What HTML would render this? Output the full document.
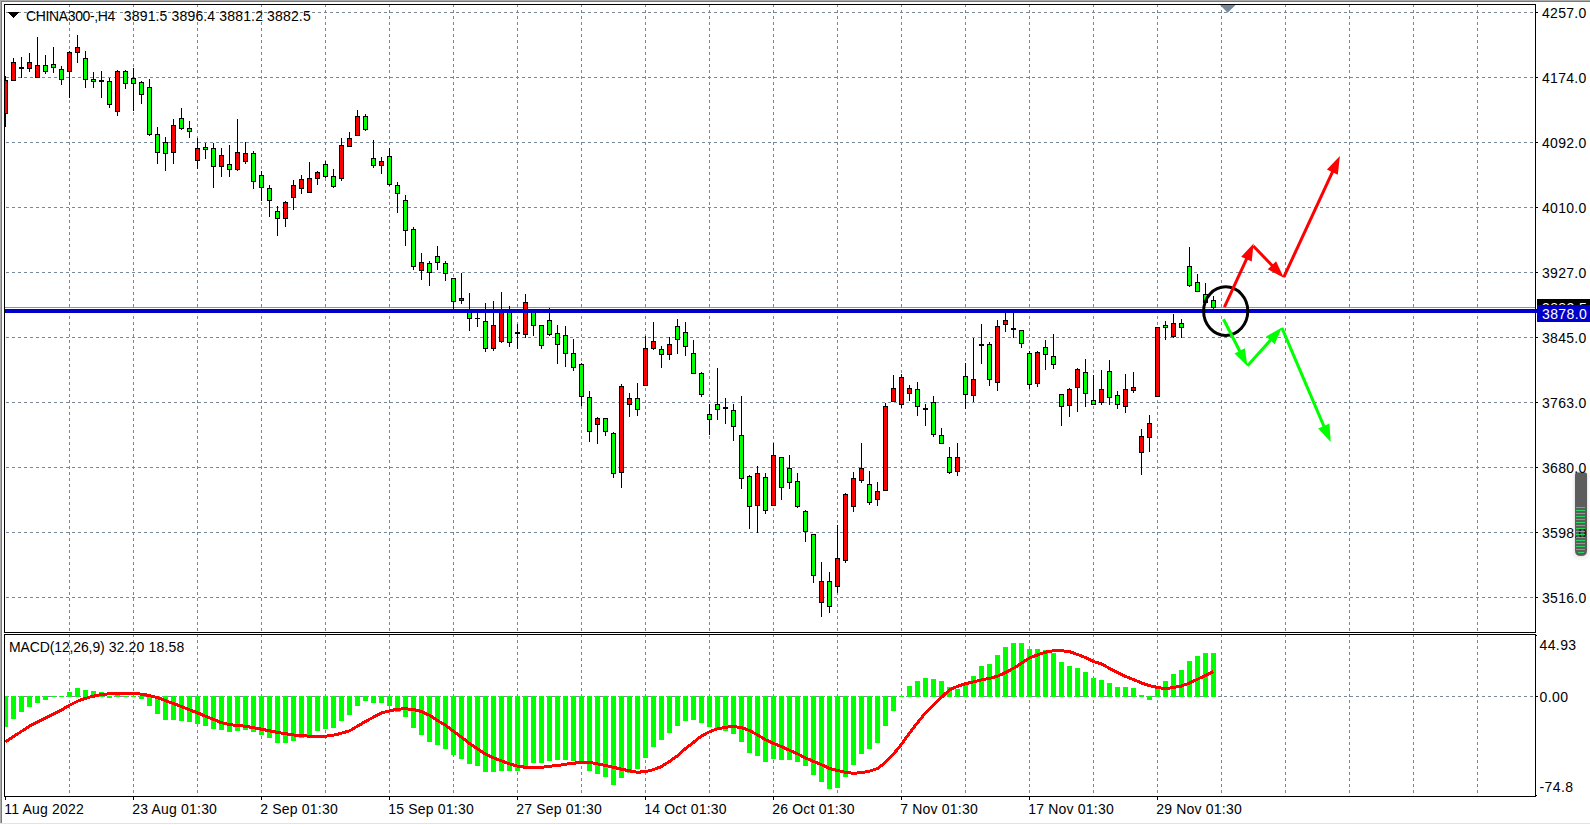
<!DOCTYPE html>
<html><head><meta charset="utf-8"><title>CHINA300-,H4</title>
<style>
html,body{margin:0;padding:0;background:#fff;}
body{width:1590px;height:825px;overflow:hidden;position:relative;font-family:"Liberation Sans",sans-serif;font-size:14px;color:#000;}
svg{position:absolute;left:0;top:0;}
.t{position:absolute;white-space:pre;line-height:16px;height:16px;font-size:14px;}
.ax{left:1540px;}
</style></head><body>
<svg width="1590" height="825" viewBox="0 0 1590 825">
<g shape-rendering="crispEdges">
<rect x="0" y="0" width="1590" height="1" fill="#ababab"/>
<rect x="0" y="1" width="1590" height="1" fill="#7a7a7a"/>
<rect x="0" y="0" width="1" height="823" fill="#ababab"/>
<rect x="1" y="1" width="1" height="822" fill="#7a7a7a"/>
<rect x="0" y="823" width="1590" height="1" fill="#e3e3e3"/>
<line x1="6" y1="12.5" x2="1535" y2="12.5" stroke="#778899" stroke-width="1" stroke-dasharray="3 3"/>
<line x1="6" y1="77.5" x2="1535" y2="77.5" stroke="#778899" stroke-width="1" stroke-dasharray="3 3"/>
<line x1="6" y1="142.5" x2="1535" y2="142.5" stroke="#778899" stroke-width="1" stroke-dasharray="3 3"/>
<line x1="6" y1="207.5" x2="1535" y2="207.5" stroke="#778899" stroke-width="1" stroke-dasharray="3 3"/>
<line x1="6" y1="272.5" x2="1535" y2="272.5" stroke="#778899" stroke-width="1" stroke-dasharray="3 3"/>
<line x1="6" y1="337.5" x2="1535" y2="337.5" stroke="#778899" stroke-width="1" stroke-dasharray="3 3"/>
<line x1="6" y1="402.5" x2="1535" y2="402.5" stroke="#778899" stroke-width="1" stroke-dasharray="3 3"/>
<line x1="6" y1="467.5" x2="1535" y2="467.5" stroke="#778899" stroke-width="1" stroke-dasharray="3 3"/>
<line x1="6" y1="532.5" x2="1535" y2="532.5" stroke="#778899" stroke-width="1" stroke-dasharray="3 3"/>
<line x1="6" y1="597.5" x2="1535" y2="597.5" stroke="#778899" stroke-width="1" stroke-dasharray="3 3"/>
<line x1="6" y1="696.5" x2="1535" y2="696.5" stroke="#778899" stroke-width="1" stroke-dasharray="3 3"/>
<line x1="69.5" y1="4" x2="69.5" y2="632" stroke="#778899" stroke-width="1" stroke-dasharray="3 3"/>
<line x1="69.5" y1="634" x2="69.5" y2="796" stroke="#778899" stroke-width="1" stroke-dasharray="3 3"/>
<line x1="133.5" y1="4" x2="133.5" y2="632" stroke="#778899" stroke-width="1" stroke-dasharray="3 3"/>
<line x1="133.5" y1="634" x2="133.5" y2="796" stroke="#778899" stroke-width="1" stroke-dasharray="3 3"/>
<line x1="197.5" y1="4" x2="197.5" y2="632" stroke="#778899" stroke-width="1" stroke-dasharray="3 3"/>
<line x1="197.5" y1="634" x2="197.5" y2="796" stroke="#778899" stroke-width="1" stroke-dasharray="3 3"/>
<line x1="261.5" y1="4" x2="261.5" y2="632" stroke="#778899" stroke-width="1" stroke-dasharray="3 3"/>
<line x1="261.5" y1="634" x2="261.5" y2="796" stroke="#778899" stroke-width="1" stroke-dasharray="3 3"/>
<line x1="325.5" y1="4" x2="325.5" y2="632" stroke="#778899" stroke-width="1" stroke-dasharray="3 3"/>
<line x1="325.5" y1="634" x2="325.5" y2="796" stroke="#778899" stroke-width="1" stroke-dasharray="3 3"/>
<line x1="389.5" y1="4" x2="389.5" y2="632" stroke="#778899" stroke-width="1" stroke-dasharray="3 3"/>
<line x1="389.5" y1="634" x2="389.5" y2="796" stroke="#778899" stroke-width="1" stroke-dasharray="3 3"/>
<line x1="453.5" y1="4" x2="453.5" y2="632" stroke="#778899" stroke-width="1" stroke-dasharray="3 3"/>
<line x1="453.5" y1="634" x2="453.5" y2="796" stroke="#778899" stroke-width="1" stroke-dasharray="3 3"/>
<line x1="517.5" y1="4" x2="517.5" y2="632" stroke="#778899" stroke-width="1" stroke-dasharray="3 3"/>
<line x1="517.5" y1="634" x2="517.5" y2="796" stroke="#778899" stroke-width="1" stroke-dasharray="3 3"/>
<line x1="581.5" y1="4" x2="581.5" y2="632" stroke="#778899" stroke-width="1" stroke-dasharray="3 3"/>
<line x1="581.5" y1="634" x2="581.5" y2="796" stroke="#778899" stroke-width="1" stroke-dasharray="3 3"/>
<line x1="645.5" y1="4" x2="645.5" y2="632" stroke="#778899" stroke-width="1" stroke-dasharray="3 3"/>
<line x1="645.5" y1="634" x2="645.5" y2="796" stroke="#778899" stroke-width="1" stroke-dasharray="3 3"/>
<line x1="709.5" y1="4" x2="709.5" y2="632" stroke="#778899" stroke-width="1" stroke-dasharray="3 3"/>
<line x1="709.5" y1="634" x2="709.5" y2="796" stroke="#778899" stroke-width="1" stroke-dasharray="3 3"/>
<line x1="773.5" y1="4" x2="773.5" y2="632" stroke="#778899" stroke-width="1" stroke-dasharray="3 3"/>
<line x1="773.5" y1="634" x2="773.5" y2="796" stroke="#778899" stroke-width="1" stroke-dasharray="3 3"/>
<line x1="837.5" y1="4" x2="837.5" y2="632" stroke="#778899" stroke-width="1" stroke-dasharray="3 3"/>
<line x1="837.5" y1="634" x2="837.5" y2="796" stroke="#778899" stroke-width="1" stroke-dasharray="3 3"/>
<line x1="901.5" y1="4" x2="901.5" y2="632" stroke="#778899" stroke-width="1" stroke-dasharray="3 3"/>
<line x1="901.5" y1="634" x2="901.5" y2="796" stroke="#778899" stroke-width="1" stroke-dasharray="3 3"/>
<line x1="965.5" y1="4" x2="965.5" y2="632" stroke="#778899" stroke-width="1" stroke-dasharray="3 3"/>
<line x1="965.5" y1="634" x2="965.5" y2="796" stroke="#778899" stroke-width="1" stroke-dasharray="3 3"/>
<line x1="1029.5" y1="4" x2="1029.5" y2="632" stroke="#778899" stroke-width="1" stroke-dasharray="3 3"/>
<line x1="1029.5" y1="634" x2="1029.5" y2="796" stroke="#778899" stroke-width="1" stroke-dasharray="3 3"/>
<line x1="1093.5" y1="4" x2="1093.5" y2="632" stroke="#778899" stroke-width="1" stroke-dasharray="3 3"/>
<line x1="1093.5" y1="634" x2="1093.5" y2="796" stroke="#778899" stroke-width="1" stroke-dasharray="3 3"/>
<line x1="1157.5" y1="4" x2="1157.5" y2="632" stroke="#778899" stroke-width="1" stroke-dasharray="3 3"/>
<line x1="1157.5" y1="634" x2="1157.5" y2="796" stroke="#778899" stroke-width="1" stroke-dasharray="3 3"/>
<line x1="1221.5" y1="4" x2="1221.5" y2="632" stroke="#778899" stroke-width="1" stroke-dasharray="3 3"/>
<line x1="1221.5" y1="634" x2="1221.5" y2="796" stroke="#778899" stroke-width="1" stroke-dasharray="3 3"/>
<line x1="1285.5" y1="4" x2="1285.5" y2="632" stroke="#778899" stroke-width="1" stroke-dasharray="3 3"/>
<line x1="1285.5" y1="634" x2="1285.5" y2="796" stroke="#778899" stroke-width="1" stroke-dasharray="3 3"/>
<line x1="1349.5" y1="4" x2="1349.5" y2="632" stroke="#778899" stroke-width="1" stroke-dasharray="3 3"/>
<line x1="1349.5" y1="634" x2="1349.5" y2="796" stroke="#778899" stroke-width="1" stroke-dasharray="3 3"/>
<line x1="1413.5" y1="4" x2="1413.5" y2="632" stroke="#778899" stroke-width="1" stroke-dasharray="3 3"/>
<line x1="1413.5" y1="634" x2="1413.5" y2="796" stroke="#778899" stroke-width="1" stroke-dasharray="3 3"/>
<line x1="1477.5" y1="4" x2="1477.5" y2="632" stroke="#778899" stroke-width="1" stroke-dasharray="3 3"/>
<line x1="1477.5" y1="634" x2="1477.5" y2="796" stroke="#778899" stroke-width="1" stroke-dasharray="3 3"/>
<rect x="5" y="307" width="1530" height="1" fill="#8a97a4"/>
<rect x="5" y="696" width="3" height="31" fill="#00ff00"/>
<rect x="11" y="696" width="5" height="23" fill="#00ff00"/>
<rect x="19" y="696" width="5" height="16" fill="#00ff00"/>
<rect x="27" y="696" width="5" height="11" fill="#00ff00"/>
<rect x="35" y="696" width="5" height="7" fill="#00ff00"/>
<rect x="43" y="696" width="5" height="4" fill="#00ff00"/>
<rect x="51" y="696" width="5" height="1" fill="#00ff00"/>
<rect x="59" y="696" width="5" height="1" fill="#00ff00"/>
<rect x="67" y="692" width="5" height="5" fill="#00ff00"/>
<rect x="75" y="688" width="5" height="9" fill="#00ff00"/>
<rect x="83" y="690" width="5" height="7" fill="#00ff00"/>
<rect x="91" y="691" width="5" height="6" fill="#00ff00"/>
<rect x="99" y="692" width="5" height="5" fill="#00ff00"/>
<rect x="107" y="696" width="5" height="2" fill="#00ff00"/>
<rect x="115" y="695" width="5" height="2" fill="#00ff00"/>
<rect x="123" y="696" width="5" height="1" fill="#00ff00"/>
<rect x="131" y="696" width="5" height="1" fill="#00ff00"/>
<rect x="139" y="696" width="5" height="3" fill="#00ff00"/>
<rect x="147" y="696" width="5" height="10" fill="#00ff00"/>
<rect x="155" y="696" width="5" height="18" fill="#00ff00"/>
<rect x="163" y="696" width="5" height="24" fill="#00ff00"/>
<rect x="171" y="696" width="5" height="24" fill="#00ff00"/>
<rect x="179" y="696" width="5" height="25" fill="#00ff00"/>
<rect x="187" y="696" width="5" height="26" fill="#00ff00"/>
<rect x="195" y="696" width="5" height="28" fill="#00ff00"/>
<rect x="203" y="696" width="5" height="30" fill="#00ff00"/>
<rect x="211" y="696" width="5" height="33" fill="#00ff00"/>
<rect x="219" y="696" width="5" height="34" fill="#00ff00"/>
<rect x="227" y="696" width="5" height="36" fill="#00ff00"/>
<rect x="235" y="696" width="5" height="35" fill="#00ff00"/>
<rect x="243" y="696" width="5" height="34" fill="#00ff00"/>
<rect x="251" y="696" width="5" height="36" fill="#00ff00"/>
<rect x="259" y="696" width="5" height="39" fill="#00ff00"/>
<rect x="267" y="696" width="5" height="42" fill="#00ff00"/>
<rect x="275" y="696" width="5" height="47" fill="#00ff00"/>
<rect x="283" y="696" width="5" height="47" fill="#00ff00"/>
<rect x="291" y="696" width="5" height="45" fill="#00ff00"/>
<rect x="299" y="696" width="5" height="42" fill="#00ff00"/>
<rect x="307" y="696" width="5" height="40" fill="#00ff00"/>
<rect x="315" y="696" width="5" height="35" fill="#00ff00"/>
<rect x="323" y="696" width="5" height="33" fill="#00ff00"/>
<rect x="331" y="696" width="5" height="32" fill="#00ff00"/>
<rect x="339" y="696" width="5" height="25" fill="#00ff00"/>
<rect x="347" y="696" width="5" height="19" fill="#00ff00"/>
<rect x="355" y="696" width="5" height="10" fill="#00ff00"/>
<rect x="363" y="696" width="5" height="5" fill="#00ff00"/>
<rect x="371" y="696" width="5" height="7" fill="#00ff00"/>
<rect x="379" y="696" width="5" height="7" fill="#00ff00"/>
<rect x="387" y="696" width="5" height="10" fill="#00ff00"/>
<rect x="395" y="696" width="5" height="16" fill="#00ff00"/>
<rect x="403" y="696" width="5" height="21" fill="#00ff00"/>
<rect x="411" y="696" width="5" height="32" fill="#00ff00"/>
<rect x="419" y="696" width="5" height="39" fill="#00ff00"/>
<rect x="427" y="696" width="5" height="46" fill="#00ff00"/>
<rect x="435" y="696" width="5" height="49" fill="#00ff00"/>
<rect x="443" y="696" width="5" height="53" fill="#00ff00"/>
<rect x="451" y="696" width="5" height="59" fill="#00ff00"/>
<rect x="459" y="696" width="5" height="63" fill="#00ff00"/>
<rect x="467" y="696" width="5" height="68" fill="#00ff00"/>
<rect x="475" y="696" width="5" height="70" fill="#00ff00"/>
<rect x="483" y="696" width="5" height="76" fill="#00ff00"/>
<rect x="491" y="696" width="5" height="76" fill="#00ff00"/>
<rect x="499" y="696" width="5" height="75" fill="#00ff00"/>
<rect x="507" y="696" width="5" height="75" fill="#00ff00"/>
<rect x="515" y="696" width="5" height="75" fill="#00ff00"/>
<rect x="523" y="696" width="5" height="71" fill="#00ff00"/>
<rect x="531" y="696" width="5" height="67" fill="#00ff00"/>
<rect x="539" y="696" width="5" height="67" fill="#00ff00"/>
<rect x="547" y="696" width="5" height="65" fill="#00ff00"/>
<rect x="555" y="696" width="5" height="64" fill="#00ff00"/>
<rect x="563" y="696" width="5" height="64" fill="#00ff00"/>
<rect x="571" y="696" width="5" height="65" fill="#00ff00"/>
<rect x="579" y="696" width="5" height="67" fill="#00ff00"/>
<rect x="587" y="696" width="5" height="75" fill="#00ff00"/>
<rect x="595" y="696" width="5" height="78" fill="#00ff00"/>
<rect x="603" y="696" width="5" height="81" fill="#00ff00"/>
<rect x="611" y="696" width="5" height="89" fill="#00ff00"/>
<rect x="619" y="696" width="5" height="82" fill="#00ff00"/>
<rect x="627" y="696" width="5" height="77" fill="#00ff00"/>
<rect x="635" y="696" width="5" height="73" fill="#00ff00"/>
<rect x="643" y="696" width="5" height="62" fill="#00ff00"/>
<rect x="651" y="696" width="5" height="51" fill="#00ff00"/>
<rect x="659" y="696" width="5" height="44" fill="#00ff00"/>
<rect x="667" y="696" width="5" height="37" fill="#00ff00"/>
<rect x="675" y="696" width="5" height="30" fill="#00ff00"/>
<rect x="683" y="696" width="5" height="25" fill="#00ff00"/>
<rect x="691" y="696" width="5" height="24" fill="#00ff00"/>
<rect x="699" y="696" width="5" height="27" fill="#00ff00"/>
<rect x="707" y="696" width="5" height="31" fill="#00ff00"/>
<rect x="715" y="696" width="5" height="33" fill="#00ff00"/>
<rect x="723" y="696" width="5" height="35" fill="#00ff00"/>
<rect x="731" y="696" width="5" height="38" fill="#00ff00"/>
<rect x="739" y="696" width="5" height="46" fill="#00ff00"/>
<rect x="747" y="696" width="5" height="57" fill="#00ff00"/>
<rect x="755" y="696" width="5" height="60" fill="#00ff00"/>
<rect x="763" y="696" width="5" height="66" fill="#00ff00"/>
<rect x="771" y="696" width="5" height="63" fill="#00ff00"/>
<rect x="779" y="696" width="5" height="64" fill="#00ff00"/>
<rect x="787" y="696" width="5" height="64" fill="#00ff00"/>
<rect x="795" y="696" width="5" height="66" fill="#00ff00"/>
<rect x="803" y="696" width="5" height="70" fill="#00ff00"/>
<rect x="811" y="696" width="5" height="79" fill="#00ff00"/>
<rect x="819" y="696" width="5" height="86" fill="#00ff00"/>
<rect x="827" y="696" width="5" height="93" fill="#00ff00"/>
<rect x="835" y="696" width="5" height="92" fill="#00ff00"/>
<rect x="843" y="696" width="5" height="81" fill="#00ff00"/>
<rect x="851" y="696" width="5" height="69" fill="#00ff00"/>
<rect x="859" y="696" width="5" height="58" fill="#00ff00"/>
<rect x="867" y="696" width="5" height="53" fill="#00ff00"/>
<rect x="875" y="696" width="5" height="47" fill="#00ff00"/>
<rect x="883" y="696" width="5" height="30" fill="#00ff00"/>
<rect x="891" y="696" width="5" height="15" fill="#00ff00"/>
<rect x="899" y="696" width="5" height="1" fill="#00ff00"/>
<rect x="907" y="686" width="5" height="11" fill="#00ff00"/>
<rect x="915" y="681" width="5" height="16" fill="#00ff00"/>
<rect x="923" y="678" width="5" height="19" fill="#00ff00"/>
<rect x="931" y="679" width="5" height="18" fill="#00ff00"/>
<rect x="939" y="681" width="5" height="16" fill="#00ff00"/>
<rect x="947" y="687" width="5" height="10" fill="#00ff00"/>
<rect x="955" y="689" width="5" height="8" fill="#00ff00"/>
<rect x="963" y="683" width="5" height="14" fill="#00ff00"/>
<rect x="971" y="676" width="5" height="21" fill="#00ff00"/>
<rect x="979" y="666" width="5" height="31" fill="#00ff00"/>
<rect x="987" y="664" width="5" height="33" fill="#00ff00"/>
<rect x="995" y="655" width="5" height="42" fill="#00ff00"/>
<rect x="1003" y="647" width="5" height="50" fill="#00ff00"/>
<rect x="1011" y="643" width="5" height="54" fill="#00ff00"/>
<rect x="1019" y="643" width="5" height="54" fill="#00ff00"/>
<rect x="1027" y="649" width="5" height="48" fill="#00ff00"/>
<rect x="1035" y="649" width="5" height="48" fill="#00ff00"/>
<rect x="1043" y="650" width="5" height="47" fill="#00ff00"/>
<rect x="1051" y="653" width="5" height="44" fill="#00ff00"/>
<rect x="1059" y="662" width="5" height="35" fill="#00ff00"/>
<rect x="1067" y="666" width="5" height="31" fill="#00ff00"/>
<rect x="1075" y="668" width="5" height="29" fill="#00ff00"/>
<rect x="1083" y="672" width="5" height="25" fill="#00ff00"/>
<rect x="1091" y="678" width="5" height="19" fill="#00ff00"/>
<rect x="1099" y="680" width="5" height="17" fill="#00ff00"/>
<rect x="1107" y="683" width="5" height="14" fill="#00ff00"/>
<rect x="1115" y="687" width="5" height="10" fill="#00ff00"/>
<rect x="1123" y="687" width="5" height="10" fill="#00ff00"/>
<rect x="1131" y="688" width="5" height="9" fill="#00ff00"/>
<rect x="1139" y="695" width="5" height="2" fill="#00ff00"/>
<rect x="1147" y="696" width="5" height="4" fill="#00ff00"/>
<rect x="1155" y="688" width="5" height="9" fill="#00ff00"/>
<rect x="1163" y="681" width="5" height="16" fill="#00ff00"/>
<rect x="1171" y="674" width="5" height="23" fill="#00ff00"/>
<rect x="1179" y="670" width="5" height="27" fill="#00ff00"/>
<rect x="1187" y="661" width="5" height="36" fill="#00ff00"/>
<rect x="1195" y="656" width="5" height="41" fill="#00ff00"/>
<rect x="1203" y="653" width="5" height="44" fill="#00ff00"/>
<rect x="1211" y="653" width="5" height="44" fill="#00ff00"/>
<rect x="5" y="76" width="1" height="51" fill="#000"/><rect x="3" y="80" width="5" height="34" fill="#000"/><rect x="4" y="81" width="3" height="32" fill="#ff0000"/>
<rect x="13" y="58" width="1" height="23" fill="#000"/><rect x="11" y="62" width="5" height="19" fill="#000"/><rect x="12" y="63" width="3" height="17" fill="#ff0000"/>
<rect x="21" y="57" width="1" height="21" fill="#000"/><rect x="19" y="67" width="5" height="2" fill="#000"/>
<rect x="29" y="53" width="1" height="19" fill="#000"/><rect x="27" y="62" width="5" height="7" fill="#000"/><rect x="28" y="63" width="3" height="5" fill="#ff0000"/>
<rect x="37" y="37" width="1" height="41" fill="#000"/><rect x="35" y="65" width="5" height="13" fill="#000"/><rect x="36" y="66" width="3" height="11" fill="#ff0000"/>
<rect x="45" y="55" width="1" height="19" fill="#000"/><rect x="43" y="65" width="5" height="7" fill="#000"/><rect x="44" y="66" width="3" height="5" fill="#00ff00"/>
<rect x="53" y="47" width="1" height="26" fill="#000"/><rect x="51" y="64" width="5" height="4" fill="#000"/><rect x="52" y="65" width="3" height="2" fill="#00ff00"/>
<rect x="61" y="66" width="1" height="19" fill="#000"/><rect x="59" y="69" width="5" height="11" fill="#000"/><rect x="60" y="70" width="3" height="9" fill="#00ff00"/>
<rect x="69" y="51" width="1" height="47" fill="#000"/><rect x="67" y="52" width="5" height="20" fill="#000"/><rect x="68" y="53" width="3" height="18" fill="#ff0000"/>
<rect x="77" y="35" width="1" height="28" fill="#000"/><rect x="75" y="47" width="5" height="6" fill="#000"/><rect x="76" y="48" width="3" height="4" fill="#ff0000"/>
<rect x="85" y="51" width="1" height="37" fill="#000"/><rect x="83" y="58" width="5" height="22" fill="#000"/><rect x="84" y="59" width="3" height="20" fill="#00ff00"/>
<rect x="93" y="72" width="1" height="16" fill="#000"/><rect x="91" y="79" width="5" height="3" fill="#000"/><rect x="92" y="80" width="3" height="1" fill="#00ff00"/>
<rect x="101" y="71" width="1" height="27" fill="#000"/><rect x="99" y="80" width="5" height="2" fill="#000"/>
<rect x="109" y="78" width="1" height="30" fill="#000"/><rect x="107" y="81" width="5" height="24" fill="#000"/><rect x="108" y="82" width="3" height="22" fill="#00ff00"/>
<rect x="117" y="70" width="1" height="46" fill="#000"/><rect x="115" y="71" width="5" height="41" fill="#000"/><rect x="116" y="72" width="3" height="39" fill="#ff0000"/>
<rect x="125" y="70" width="1" height="19" fill="#000"/><rect x="123" y="71" width="5" height="13" fill="#000"/><rect x="124" y="72" width="3" height="11" fill="#00ff00"/>
<rect x="133" y="68" width="1" height="43" fill="#000"/><rect x="131" y="78" width="5" height="6" fill="#000"/><rect x="132" y="79" width="3" height="4" fill="#00ff00"/>
<rect x="141" y="81" width="1" height="23" fill="#000"/><rect x="139" y="82" width="5" height="13" fill="#000"/><rect x="140" y="83" width="3" height="11" fill="#00ff00"/>
<rect x="149" y="79" width="1" height="57" fill="#000"/><rect x="147" y="87" width="5" height="48" fill="#000"/><rect x="148" y="88" width="3" height="46" fill="#00ff00"/>
<rect x="157" y="127" width="1" height="37" fill="#000"/><rect x="155" y="134" width="5" height="19" fill="#000"/><rect x="156" y="135" width="3" height="17" fill="#00ff00"/>
<rect x="165" y="137" width="1" height="34" fill="#000"/><rect x="163" y="142" width="5" height="12" fill="#000"/><rect x="164" y="143" width="3" height="10" fill="#00ff00"/>
<rect x="173" y="119" width="1" height="45" fill="#000"/><rect x="171" y="125" width="5" height="28" fill="#000"/><rect x="172" y="126" width="3" height="26" fill="#ff0000"/>
<rect x="181" y="108" width="1" height="22" fill="#000"/><rect x="179" y="118" width="5" height="11" fill="#000"/><rect x="180" y="119" width="3" height="9" fill="#00ff00"/>
<rect x="189" y="121" width="1" height="17" fill="#000"/><rect x="187" y="128" width="5" height="4" fill="#000"/><rect x="188" y="129" width="3" height="2" fill="#00ff00"/>
<rect x="197" y="138" width="1" height="31" fill="#000"/><rect x="195" y="148" width="5" height="13" fill="#000"/><rect x="196" y="149" width="3" height="11" fill="#ff0000"/>
<rect x="205" y="143" width="1" height="16" fill="#000"/><rect x="203" y="147" width="5" height="3" fill="#000"/><rect x="204" y="148" width="3" height="1" fill="#00ff00"/>
<rect x="213" y="143" width="1" height="45" fill="#000"/><rect x="211" y="148" width="5" height="19" fill="#000"/><rect x="212" y="149" width="3" height="17" fill="#00ff00"/>
<rect x="221" y="148" width="1" height="29" fill="#000"/><rect x="219" y="155" width="5" height="12" fill="#000"/><rect x="220" y="156" width="3" height="10" fill="#ff0000"/>
<rect x="229" y="145" width="1" height="32" fill="#000"/><rect x="227" y="164" width="5" height="6" fill="#000"/><rect x="228" y="165" width="3" height="4" fill="#00ff00"/>
<rect x="237" y="119" width="1" height="52" fill="#000"/><rect x="235" y="152" width="5" height="18" fill="#000"/><rect x="236" y="153" width="3" height="16" fill="#ff0000"/>
<rect x="245" y="142" width="1" height="22" fill="#000"/><rect x="243" y="153" width="5" height="9" fill="#000"/><rect x="244" y="154" width="3" height="7" fill="#ff0000"/>
<rect x="253" y="151" width="1" height="38" fill="#000"/><rect x="251" y="153" width="5" height="29" fill="#000"/><rect x="252" y="154" width="3" height="27" fill="#00ff00"/>
<rect x="261" y="171" width="1" height="30" fill="#000"/><rect x="259" y="175" width="5" height="13" fill="#000"/><rect x="260" y="176" width="3" height="11" fill="#00ff00"/>
<rect x="269" y="185" width="1" height="32" fill="#000"/><rect x="267" y="188" width="5" height="13" fill="#000"/><rect x="268" y="189" width="3" height="11" fill="#00ff00"/>
<rect x="277" y="206" width="1" height="30" fill="#000"/><rect x="275" y="211" width="5" height="8" fill="#000"/><rect x="276" y="212" width="3" height="6" fill="#00ff00"/>
<rect x="285" y="201" width="1" height="26" fill="#000"/><rect x="283" y="202" width="5" height="17" fill="#000"/><rect x="284" y="203" width="3" height="15" fill="#ff0000"/>
<rect x="293" y="180" width="1" height="30" fill="#000"/><rect x="291" y="185" width="5" height="13" fill="#000"/><rect x="292" y="186" width="3" height="11" fill="#ff0000"/>
<rect x="301" y="175" width="1" height="19" fill="#000"/><rect x="299" y="179" width="5" height="10" fill="#000"/><rect x="300" y="180" width="3" height="8" fill="#ff0000"/>
<rect x="309" y="162" width="1" height="31" fill="#000"/><rect x="307" y="178" width="5" height="15" fill="#000"/><rect x="308" y="179" width="3" height="13" fill="#ff0000"/>
<rect x="317" y="171" width="1" height="14" fill="#000"/><rect x="315" y="172" width="5" height="7" fill="#000"/><rect x="316" y="173" width="3" height="5" fill="#ff0000"/>
<rect x="325" y="161" width="1" height="17" fill="#000"/><rect x="323" y="164" width="5" height="13" fill="#000"/><rect x="324" y="165" width="3" height="11" fill="#00ff00"/>
<rect x="333" y="169" width="1" height="19" fill="#000"/><rect x="331" y="176" width="5" height="11" fill="#000"/><rect x="332" y="177" width="3" height="9" fill="#00ff00"/>
<rect x="341" y="138" width="1" height="43" fill="#000"/><rect x="339" y="145" width="5" height="34" fill="#000"/><rect x="340" y="146" width="3" height="32" fill="#ff0000"/>
<rect x="349" y="132" width="1" height="15" fill="#000"/><rect x="347" y="138" width="5" height="9" fill="#000"/><rect x="348" y="139" width="3" height="7" fill="#ff0000"/>
<rect x="357" y="110" width="1" height="26" fill="#000"/><rect x="355" y="116" width="5" height="20" fill="#000"/><rect x="356" y="117" width="3" height="18" fill="#ff0000"/>
<rect x="365" y="114" width="1" height="17" fill="#000"/><rect x="363" y="116" width="5" height="14" fill="#000"/><rect x="364" y="117" width="3" height="12" fill="#00ff00"/>
<rect x="373" y="140" width="1" height="28" fill="#000"/><rect x="371" y="158" width="5" height="8" fill="#000"/><rect x="372" y="159" width="3" height="6" fill="#00ff00"/>
<rect x="381" y="157" width="1" height="17" fill="#000"/><rect x="379" y="161" width="5" height="5" fill="#000"/><rect x="380" y="162" width="3" height="3" fill="#ff0000"/>
<rect x="389" y="148" width="1" height="38" fill="#000"/><rect x="387" y="156" width="5" height="29" fill="#000"/><rect x="388" y="157" width="3" height="27" fill="#00ff00"/>
<rect x="397" y="182" width="1" height="31" fill="#000"/><rect x="395" y="185" width="5" height="9" fill="#000"/><rect x="396" y="186" width="3" height="7" fill="#00ff00"/>
<rect x="405" y="195" width="1" height="51" fill="#000"/><rect x="403" y="200" width="5" height="31" fill="#000"/><rect x="404" y="201" width="3" height="29" fill="#00ff00"/>
<rect x="413" y="227" width="1" height="43" fill="#000"/><rect x="411" y="229" width="5" height="38" fill="#000"/><rect x="412" y="230" width="3" height="36" fill="#00ff00"/>
<rect x="421" y="253" width="1" height="27" fill="#000"/><rect x="419" y="262" width="5" height="9" fill="#000"/><rect x="420" y="263" width="3" height="7" fill="#ff0000"/>
<rect x="429" y="261" width="1" height="25" fill="#000"/><rect x="427" y="263" width="5" height="10" fill="#000"/><rect x="428" y="264" width="3" height="8" fill="#00ff00"/>
<rect x="437" y="246" width="1" height="24" fill="#000"/><rect x="435" y="256" width="5" height="7" fill="#000"/><rect x="436" y="257" width="3" height="5" fill="#00ff00"/>
<rect x="445" y="261" width="1" height="20" fill="#000"/><rect x="443" y="263" width="5" height="11" fill="#000"/><rect x="444" y="264" width="3" height="9" fill="#00ff00"/>
<rect x="453" y="278" width="1" height="33" fill="#000"/><rect x="451" y="278" width="5" height="24" fill="#000"/><rect x="452" y="279" width="3" height="22" fill="#00ff00"/>
<rect x="461" y="273" width="1" height="31" fill="#000"/><rect x="459" y="298" width="5" height="3" fill="#000"/><rect x="460" y="299" width="3" height="1" fill="#ff0000"/>
<rect x="469" y="293" width="1" height="38" fill="#000"/><rect x="467" y="310" width="5" height="9" fill="#000"/><rect x="468" y="311" width="3" height="7" fill="#00ff00"/>
<rect x="477" y="310" width="1" height="17" fill="#000"/><rect x="475" y="318" width="5" height="1" fill="#000"/>
<rect x="485" y="303" width="1" height="49" fill="#000"/><rect x="483" y="321" width="5" height="28" fill="#000"/><rect x="484" y="322" width="3" height="26" fill="#00ff00"/>
<rect x="493" y="301" width="1" height="50" fill="#000"/><rect x="491" y="325" width="5" height="24" fill="#000"/><rect x="492" y="326" width="3" height="22" fill="#ff0000"/>
<rect x="501" y="292" width="1" height="51" fill="#000"/><rect x="499" y="310" width="5" height="32" fill="#000"/><rect x="500" y="311" width="3" height="30" fill="#ff0000"/>
<rect x="509" y="306" width="1" height="41" fill="#000"/><rect x="507" y="310" width="5" height="33" fill="#000"/><rect x="508" y="311" width="3" height="31" fill="#00ff00"/>
<rect x="517" y="324" width="1" height="25" fill="#000"/><rect x="515" y="332" width="5" height="2" fill="#000"/>
<rect x="525" y="294" width="1" height="44" fill="#000"/><rect x="523" y="302" width="5" height="33" fill="#000"/><rect x="524" y="303" width="3" height="31" fill="#ff0000"/>
<rect x="533" y="310" width="1" height="26" fill="#000"/><rect x="531" y="310" width="5" height="16" fill="#000"/><rect x="532" y="311" width="3" height="14" fill="#00ff00"/>
<rect x="541" y="325" width="1" height="24" fill="#000"/><rect x="539" y="325" width="5" height="21" fill="#000"/><rect x="540" y="326" width="3" height="19" fill="#00ff00"/>
<rect x="549" y="308" width="1" height="28" fill="#000"/><rect x="547" y="320" width="5" height="15" fill="#000"/><rect x="548" y="321" width="3" height="13" fill="#00ff00"/>
<rect x="557" y="325" width="1" height="39" fill="#000"/><rect x="555" y="333" width="5" height="12" fill="#000"/><rect x="556" y="334" width="3" height="10" fill="#00ff00"/>
<rect x="565" y="326" width="1" height="41" fill="#000"/><rect x="563" y="335" width="5" height="19" fill="#000"/><rect x="564" y="336" width="3" height="17" fill="#00ff00"/>
<rect x="573" y="339" width="1" height="32" fill="#000"/><rect x="571" y="353" width="5" height="15" fill="#000"/><rect x="572" y="354" width="3" height="13" fill="#00ff00"/>
<rect x="581" y="363" width="1" height="43" fill="#000"/><rect x="579" y="364" width="5" height="33" fill="#000"/><rect x="580" y="365" width="3" height="31" fill="#00ff00"/>
<rect x="589" y="391" width="1" height="51" fill="#000"/><rect x="587" y="397" width="5" height="35" fill="#000"/><rect x="588" y="398" width="3" height="33" fill="#00ff00"/>
<rect x="597" y="417" width="1" height="27" fill="#000"/><rect x="595" y="418" width="5" height="7" fill="#000"/><rect x="596" y="419" width="3" height="5" fill="#ff0000"/>
<rect x="605" y="418" width="1" height="18" fill="#000"/><rect x="603" y="418" width="5" height="14" fill="#000"/><rect x="604" y="419" width="3" height="12" fill="#00ff00"/>
<rect x="613" y="432" width="1" height="46" fill="#000"/><rect x="611" y="433" width="5" height="41" fill="#000"/><rect x="612" y="434" width="3" height="39" fill="#00ff00"/>
<rect x="621" y="384" width="1" height="104" fill="#000"/><rect x="619" y="386" width="5" height="87" fill="#000"/><rect x="620" y="387" width="3" height="85" fill="#ff0000"/>
<rect x="629" y="393" width="1" height="24" fill="#000"/><rect x="627" y="398" width="5" height="7" fill="#000"/><rect x="628" y="399" width="3" height="5" fill="#ff0000"/>
<rect x="637" y="383" width="1" height="33" fill="#000"/><rect x="635" y="398" width="5" height="12" fill="#000"/><rect x="636" y="399" width="3" height="10" fill="#00ff00"/>
<rect x="645" y="336" width="1" height="50" fill="#000"/><rect x="643" y="348" width="5" height="38" fill="#000"/><rect x="644" y="349" width="3" height="36" fill="#ff0000"/>
<rect x="653" y="322" width="1" height="28" fill="#000"/><rect x="651" y="341" width="5" height="8" fill="#000"/><rect x="652" y="342" width="3" height="6" fill="#ff0000"/>
<rect x="661" y="346" width="1" height="22" fill="#000"/><rect x="659" y="349" width="5" height="6" fill="#000"/><rect x="660" y="350" width="3" height="4" fill="#00ff00"/>
<rect x="669" y="337" width="1" height="23" fill="#000"/><rect x="667" y="344" width="5" height="11" fill="#000"/><rect x="668" y="345" width="3" height="9" fill="#ff0000"/>
<rect x="677" y="319" width="1" height="35" fill="#000"/><rect x="675" y="326" width="5" height="14" fill="#000"/><rect x="676" y="327" width="3" height="12" fill="#00ff00"/>
<rect x="685" y="322" width="1" height="34" fill="#000"/><rect x="683" y="332" width="5" height="15" fill="#000"/><rect x="684" y="333" width="3" height="13" fill="#00ff00"/>
<rect x="693" y="340" width="1" height="34" fill="#000"/><rect x="691" y="353" width="5" height="21" fill="#000"/><rect x="692" y="354" width="3" height="19" fill="#00ff00"/>
<rect x="701" y="372" width="1" height="25" fill="#000"/><rect x="699" y="373" width="5" height="22" fill="#000"/><rect x="700" y="374" width="3" height="20" fill="#00ff00"/>
<rect x="709" y="404" width="1" height="31" fill="#000"/><rect x="707" y="414" width="5" height="6" fill="#000"/><rect x="708" y="415" width="3" height="4" fill="#00ff00"/>
<rect x="717" y="368" width="1" height="52" fill="#000"/><rect x="715" y="404" width="5" height="6" fill="#000"/><rect x="716" y="405" width="3" height="4" fill="#00ff00"/>
<rect x="725" y="398" width="1" height="26" fill="#000"/><rect x="723" y="407" width="5" height="2" fill="#000"/>
<rect x="733" y="404" width="1" height="37" fill="#000"/><rect x="731" y="410" width="5" height="17" fill="#000"/><rect x="732" y="411" width="3" height="15" fill="#00ff00"/>
<rect x="741" y="396" width="1" height="93" fill="#000"/><rect x="739" y="435" width="5" height="44" fill="#000"/><rect x="740" y="436" width="3" height="42" fill="#00ff00"/>
<rect x="749" y="475" width="1" height="54" fill="#000"/><rect x="747" y="476" width="5" height="31" fill="#000"/><rect x="748" y="477" width="3" height="29" fill="#00ff00"/>
<rect x="757" y="466" width="1" height="67" fill="#000"/><rect x="755" y="473" width="5" height="33" fill="#000"/><rect x="756" y="474" width="3" height="31" fill="#ff0000"/>
<rect x="765" y="473" width="1" height="41" fill="#000"/><rect x="763" y="477" width="5" height="34" fill="#000"/><rect x="764" y="478" width="3" height="32" fill="#00ff00"/>
<rect x="773" y="443" width="1" height="63" fill="#000"/><rect x="771" y="455" width="5" height="51" fill="#000"/><rect x="772" y="456" width="3" height="49" fill="#ff0000"/>
<rect x="781" y="457" width="1" height="43" fill="#000"/><rect x="779" y="457" width="5" height="31" fill="#000"/><rect x="780" y="458" width="3" height="29" fill="#00ff00"/>
<rect x="789" y="455" width="1" height="34" fill="#000"/><rect x="787" y="468" width="5" height="15" fill="#000"/><rect x="788" y="469" width="3" height="13" fill="#00ff00"/>
<rect x="797" y="473" width="1" height="35" fill="#000"/><rect x="795" y="481" width="5" height="26" fill="#000"/><rect x="796" y="482" width="3" height="24" fill="#00ff00"/>
<rect x="805" y="510" width="1" height="32" fill="#000"/><rect x="803" y="511" width="5" height="21" fill="#000"/><rect x="804" y="512" width="3" height="19" fill="#00ff00"/>
<rect x="813" y="534" width="1" height="49" fill="#000"/><rect x="811" y="534" width="5" height="42" fill="#000"/><rect x="812" y="535" width="3" height="40" fill="#00ff00"/>
<rect x="821" y="562" width="1" height="55" fill="#000"/><rect x="819" y="581" width="5" height="22" fill="#000"/><rect x="820" y="582" width="3" height="20" fill="#ff0000"/>
<rect x="829" y="572" width="1" height="41" fill="#000"/><rect x="827" y="581" width="5" height="26" fill="#000"/><rect x="828" y="582" width="3" height="24" fill="#00ff00"/>
<rect x="837" y="525" width="1" height="68" fill="#000"/><rect x="835" y="558" width="5" height="29" fill="#000"/><rect x="836" y="559" width="3" height="27" fill="#ff0000"/>
<rect x="845" y="493" width="1" height="70" fill="#000"/><rect x="843" y="494" width="5" height="67" fill="#000"/><rect x="844" y="495" width="3" height="65" fill="#ff0000"/>
<rect x="853" y="472" width="1" height="40" fill="#000"/><rect x="851" y="478" width="5" height="29" fill="#000"/><rect x="852" y="479" width="3" height="27" fill="#ff0000"/>
<rect x="861" y="443" width="1" height="40" fill="#000"/><rect x="859" y="468" width="5" height="13" fill="#000"/><rect x="860" y="469" width="3" height="11" fill="#ff0000"/>
<rect x="869" y="471" width="1" height="34" fill="#000"/><rect x="867" y="484" width="5" height="19" fill="#000"/><rect x="868" y="485" width="3" height="17" fill="#00ff00"/>
<rect x="877" y="482" width="1" height="24" fill="#000"/><rect x="875" y="491" width="5" height="9" fill="#000"/><rect x="876" y="492" width="3" height="7" fill="#ff0000"/>
<rect x="885" y="403" width="1" height="88" fill="#000"/><rect x="883" y="406" width="5" height="85" fill="#000"/><rect x="884" y="407" width="3" height="83" fill="#ff0000"/>
<rect x="893" y="375" width="1" height="27" fill="#000"/><rect x="891" y="388" width="5" height="14" fill="#000"/><rect x="892" y="389" width="3" height="12" fill="#ff0000"/>
<rect x="901" y="374" width="1" height="34" fill="#000"/><rect x="899" y="377" width="5" height="28" fill="#000"/><rect x="900" y="378" width="3" height="26" fill="#ff0000"/>
<rect x="909" y="385" width="1" height="16" fill="#000"/><rect x="907" y="388" width="5" height="6" fill="#000"/><rect x="908" y="389" width="3" height="4" fill="#ff0000"/>
<rect x="917" y="382" width="1" height="34" fill="#000"/><rect x="915" y="389" width="5" height="18" fill="#000"/><rect x="916" y="390" width="3" height="16" fill="#00ff00"/>
<rect x="925" y="404" width="1" height="22" fill="#000"/><rect x="923" y="408" width="5" height="2" fill="#000"/>
<rect x="933" y="396" width="1" height="41" fill="#000"/><rect x="931" y="402" width="5" height="33" fill="#000"/><rect x="932" y="403" width="3" height="31" fill="#00ff00"/>
<rect x="941" y="428" width="1" height="16" fill="#000"/><rect x="939" y="435" width="5" height="9" fill="#000"/><rect x="940" y="436" width="3" height="7" fill="#00ff00"/>
<rect x="949" y="447" width="1" height="27" fill="#000"/><rect x="947" y="457" width="5" height="16" fill="#000"/><rect x="948" y="458" width="3" height="14" fill="#00ff00"/>
<rect x="957" y="443" width="1" height="33" fill="#000"/><rect x="955" y="457" width="5" height="15" fill="#000"/><rect x="956" y="458" width="3" height="13" fill="#ff0000"/>
<rect x="965" y="363" width="1" height="46" fill="#000"/><rect x="963" y="376" width="5" height="19" fill="#000"/><rect x="964" y="377" width="3" height="17" fill="#00ff00"/>
<rect x="973" y="338" width="1" height="64" fill="#000"/><rect x="971" y="379" width="5" height="17" fill="#000"/><rect x="972" y="380" width="3" height="15" fill="#ff0000"/>
<rect x="981" y="324" width="1" height="40" fill="#000"/><rect x="979" y="344" width="5" height="2" fill="#000"/>
<rect x="989" y="342" width="1" height="44" fill="#000"/><rect x="987" y="344" width="5" height="36" fill="#000"/><rect x="988" y="345" width="3" height="34" fill="#00ff00"/>
<rect x="997" y="320" width="1" height="71" fill="#000"/><rect x="995" y="326" width="5" height="57" fill="#000"/><rect x="996" y="327" width="3" height="55" fill="#ff0000"/>
<rect x="1005" y="311" width="1" height="21" fill="#000"/><rect x="1003" y="320" width="5" height="5" fill="#000"/><rect x="1004" y="321" width="3" height="3" fill="#ff0000"/>
<rect x="1013" y="311" width="1" height="27" fill="#000"/><rect x="1011" y="328" width="5" height="2" fill="#000"/>
<rect x="1021" y="330" width="1" height="18" fill="#000"/><rect x="1019" y="330" width="5" height="14" fill="#000"/><rect x="1020" y="331" width="3" height="12" fill="#00ff00"/>
<rect x="1029" y="351" width="1" height="38" fill="#000"/><rect x="1027" y="353" width="5" height="32" fill="#000"/><rect x="1028" y="354" width="3" height="30" fill="#00ff00"/>
<rect x="1037" y="351" width="1" height="36" fill="#000"/><rect x="1035" y="352" width="5" height="32" fill="#000"/><rect x="1036" y="353" width="3" height="30" fill="#ff0000"/>
<rect x="1045" y="340" width="1" height="30" fill="#000"/><rect x="1043" y="347" width="5" height="8" fill="#000"/><rect x="1044" y="348" width="3" height="6" fill="#00ff00"/>
<rect x="1053" y="334" width="1" height="35" fill="#000"/><rect x="1051" y="356" width="5" height="9" fill="#000"/><rect x="1052" y="357" width="3" height="7" fill="#00ff00"/>
<rect x="1061" y="394" width="1" height="32" fill="#000"/><rect x="1059" y="394" width="5" height="13" fill="#000"/><rect x="1060" y="395" width="3" height="11" fill="#00ff00"/>
<rect x="1069" y="388" width="1" height="29" fill="#000"/><rect x="1067" y="389" width="5" height="17" fill="#000"/><rect x="1068" y="390" width="3" height="15" fill="#ff0000"/>
<rect x="1077" y="368" width="1" height="44" fill="#000"/><rect x="1075" y="369" width="5" height="19" fill="#000"/><rect x="1076" y="370" width="3" height="17" fill="#ff0000"/>
<rect x="1085" y="359" width="1" height="48" fill="#000"/><rect x="1083" y="372" width="5" height="22" fill="#000"/><rect x="1084" y="373" width="3" height="20" fill="#00ff00"/>
<rect x="1093" y="375" width="1" height="30" fill="#000"/><rect x="1091" y="400" width="5" height="5" fill="#000"/><rect x="1092" y="401" width="3" height="3" fill="#00ff00"/>
<rect x="1101" y="370" width="1" height="35" fill="#000"/><rect x="1099" y="389" width="5" height="14" fill="#000"/><rect x="1100" y="390" width="3" height="12" fill="#ff0000"/>
<rect x="1109" y="360" width="1" height="45" fill="#000"/><rect x="1107" y="371" width="5" height="27" fill="#000"/><rect x="1108" y="372" width="3" height="25" fill="#00ff00"/>
<rect x="1117" y="391" width="1" height="18" fill="#000"/><rect x="1115" y="395" width="5" height="10" fill="#000"/><rect x="1116" y="396" width="3" height="8" fill="#00ff00"/>
<rect x="1125" y="374" width="1" height="39" fill="#000"/><rect x="1123" y="389" width="5" height="18" fill="#000"/><rect x="1124" y="390" width="3" height="16" fill="#ff0000"/>
<rect x="1133" y="372" width="1" height="21" fill="#000"/><rect x="1131" y="387" width="5" height="4" fill="#000"/><rect x="1132" y="388" width="3" height="2" fill="#ff0000"/>
<rect x="1141" y="429" width="1" height="46" fill="#000"/><rect x="1139" y="436" width="5" height="17" fill="#000"/><rect x="1140" y="437" width="3" height="15" fill="#ff0000"/>
<rect x="1149" y="415" width="1" height="37" fill="#000"/><rect x="1147" y="423" width="5" height="15" fill="#000"/><rect x="1148" y="424" width="3" height="13" fill="#ff0000"/>
<rect x="1157" y="327" width="1" height="70" fill="#000"/><rect x="1155" y="327" width="5" height="70" fill="#000"/><rect x="1156" y="328" width="3" height="68" fill="#ff0000"/>
<rect x="1165" y="321" width="1" height="19" fill="#000"/><rect x="1163" y="325" width="5" height="3" fill="#000"/><rect x="1164" y="326" width="3" height="1" fill="#00ff00"/>
<rect x="1173" y="314" width="1" height="24" fill="#000"/><rect x="1171" y="323" width="5" height="14" fill="#000"/><rect x="1172" y="324" width="3" height="12" fill="#ff0000"/>
<rect x="1181" y="319" width="1" height="19" fill="#000"/><rect x="1179" y="323" width="5" height="5" fill="#000"/><rect x="1180" y="324" width="3" height="3" fill="#00ff00"/>
<rect x="1189" y="247" width="1" height="40" fill="#000"/><rect x="1187" y="266" width="5" height="20" fill="#000"/><rect x="1188" y="267" width="3" height="18" fill="#00ff00"/>
<rect x="1197" y="274" width="1" height="18" fill="#000"/><rect x="1195" y="282" width="5" height="10" fill="#000"/><rect x="1196" y="283" width="3" height="8" fill="#00ff00"/>
<rect x="1205" y="283" width="1" height="20" fill="#000"/><rect x="1203" y="294" width="5" height="9" fill="#000"/><rect x="1204" y="295" width="3" height="7" fill="#00ff00"/>
<rect x="1213" y="296" width="1" height="14" fill="#000"/><rect x="1211" y="300" width="5" height="8" fill="#000"/><rect x="1212" y="301" width="3" height="6" fill="#00ff00"/>
<rect x="2" y="5" width="2" height="627" fill="#fff"/>
<rect x="5" y="309" width="1533" height="4" fill="#0000c8"/>
<rect x="4" y="4" width="1532" height="1" fill="#000"/>
<rect x="4" y="632" width="1532" height="1" fill="#000"/>
<rect x="4" y="4" width="1" height="629" fill="#000"/>
<rect x="1535" y="4" width="1" height="629" fill="#000"/>
<rect x="4" y="634" width="1532" height="1" fill="#000"/>
<rect x="4" y="796" width="1532" height="1" fill="#000"/>
<rect x="4" y="634" width="1" height="163" fill="#000"/>
<rect x="1535" y="634" width="1" height="163" fill="#000"/>
<rect x="1535" y="309" width="3" height="4" fill="#0000c8"/>
<rect x="1536" y="12" width="2" height="1" fill="#000"/>
<rect x="1536" y="77" width="2" height="1" fill="#000"/>
<rect x="1536" y="142" width="2" height="1" fill="#000"/>
<rect x="1536" y="207" width="2" height="1" fill="#000"/>
<rect x="1536" y="272" width="2" height="1" fill="#000"/>
<rect x="1536" y="337" width="2" height="1" fill="#000"/>
<rect x="1536" y="402" width="2" height="1" fill="#000"/>
<rect x="1536" y="467" width="2" height="1" fill="#000"/>
<rect x="1536" y="532" width="2" height="1" fill="#000"/>
<rect x="1536" y="597" width="2" height="1" fill="#000"/>
<rect x="1536" y="696" width="2" height="1" fill="#000"/>
<rect x="1536" y="635" width="1" height="1" fill="#000"/><rect x="1536" y="795" width="1" height="1" fill="#000"/>
<rect x="5" y="797" width="1" height="3" fill="#000"/>
<rect x="133" y="797" width="1" height="3" fill="#000"/>
<rect x="261" y="797" width="1" height="3" fill="#000"/>
<rect x="389" y="797" width="1" height="3" fill="#000"/>
<rect x="517" y="797" width="1" height="3" fill="#000"/>
<rect x="645" y="797" width="1" height="3" fill="#000"/>
<rect x="773" y="797" width="1" height="3" fill="#000"/>
<rect x="901" y="797" width="1" height="3" fill="#000"/>
<rect x="1029" y="797" width="1" height="3" fill="#000"/>
<rect x="1157" y="797" width="1" height="3" fill="#000"/>
<rect x="1537" y="299" width="53" height="6" fill="#000"/>
<rect x="1537" y="305" width="53" height="17" fill="#0000c8"/>
<rect x="8" y="12" width="11" height="1" fill="#000"/><rect x="9" y="13" width="9" height="1" fill="#000"/><rect x="10" y="14" width="7" height="1" fill="#000"/><rect x="11" y="15" width="5" height="1" fill="#000"/><rect x="12" y="16" width="3" height="1" fill="#000"/><rect x="13" y="17" width="1" height="1" fill="#000"/>
<polyline points="5.5,741.8 15.2,735.5 30.3,725.6 45.5,718.0 60.6,710.5 69.5,705.2 79.5,700.3 90.9,696.8 101.5,694.5 113.6,693.5 125.8,693.3 136.4,693.5 145.5,694.8 157.6,697.6 166.7,701.1 181.8,706.7 197.0,712.7 212.1,718.8 221.2,722.6 230.0,724.7 245.2,726.2 261.5,729.2 277.6,732.4 293.5,735.0 309.5,736.2 325.5,736.2 336.0,734.7 349.5,730.9 365.5,721.4 381.5,713.0 389.5,710.8 397.6,709.2 405.5,708.8 413.5,709.5 421.5,711.5 429.5,715.3 437.6,720.6 445.5,725.2 453.5,731.2 461.5,737.3 469.5,743.4 477.4,748.8 485.5,754.1 493.5,757.9 501.5,760.9 509.5,763.9 517.6,766.2 525.6,767.3 533.5,767.3 541.5,767.3 549.5,766.2 557.6,765.5 565.6,764.2 573.5,763.2 581.5,762.4 589.5,762.4 597.6,763.9 605.5,765.5 613.5,767.3 621.5,769.2 629.5,770.8 637.6,772.3 645.5,771.5 653.5,769.7 661.5,766.5 669.5,761.4 677.6,755.6 685.6,748.5 693.5,742.4 701.5,735.9 709.5,731.8 717.4,728.8 725.5,727.3 733.5,726.5 741.5,727.6 749.5,730.6 757.4,734.8 765.5,739.7 773.5,743.5 781.5,746.5 789.5,750.3 797.6,753.8 805.5,757.9 813.5,761.4 821.5,764.7 829.5,768.5 837.6,770.5 845.5,772.3 853.5,773.3 861.5,772.7 869.5,771.2 877.6,768.5 885.5,762.4 893.5,754.1 901.5,744.2 909.5,733.0 917.5,722.7 925.5,712.8 933.5,704.9 941.5,697.4 949.5,689.8 957.6,686.3 965.6,683.7 973.5,681.9 981.5,679.9 989.5,678.4 997.6,676.2 1005.6,672.4 1013.5,668.3 1021.5,663.3 1029.5,658.0 1037.6,654.9 1045.5,652.2 1053.5,650.7 1061.5,650.7 1069.5,651.6 1077.6,654.5 1085.5,657.5 1093.5,661.5 1101.5,664.0 1109.5,668.4 1117.5,672.6 1125.5,676.5 1133.5,679.5 1141.5,683.0 1149.5,685.7 1157.6,687.5 1165.6,688.6 1173.5,687.5 1181.5,686.0 1189.5,683.0 1197.6,679.2 1205.6,675.4 1213.5,671.6" fill="none" stroke="#ff0000" stroke-width="3" stroke-linejoin="round"/>
</g>
<polygon points="1220,5 1235.5,5 1227.7,12.8" fill="#778899"/>
<ellipse cx="1225.7" cy="311.1" rx="22.1" ry="24.3" fill="none" stroke="#000" stroke-width="3"/>
<line x1="1224.4" y1="307.2" x2="1247.3" y2="257.3" stroke="#ff0000" stroke-width="3" stroke-linecap="butt"/><polygon points="1253.6,243.5 1251.7,261.6 1241.2,256.7" fill="#ff0000"/>
<line x1="1253.3" y1="246.0" x2="1273.3" y2="266.7" stroke="#ff0000" stroke-width="3" stroke-linecap="butt"/><polygon points="1283.8,277.7 1267.7,269.3 1276.1,261.3" fill="#ff0000"/>
<line x1="1283.8" y1="277.2" x2="1333.2" y2="170.3" stroke="#ff0000" stroke-width="3" stroke-linecap="butt"/><polygon points="1339.9,155.9 1337.8,174.7 1326.9,169.6" fill="#ff0000"/>
<line x1="1223.5" y1="319.2" x2="1240.6" y2="352.7" stroke="#00ff00" stroke-width="3" stroke-linecap="butt"/><polygon points="1247.5,366.2 1234.5,353.5 1244.8,348.2" fill="#00ff00"/>
<line x1="1247.5" y1="365.7" x2="1271.7" y2="338.8" stroke="#00ff00" stroke-width="3" stroke-linecap="butt"/><polygon points="1281.9,327.5 1274.7,344.2 1266.1,336.4" fill="#00ff00"/>
<line x1="1281.9" y1="327.9" x2="1324.6" y2="427.8" stroke="#00ff00" stroke-width="3" stroke-linecap="butt"/><polygon points="1330.7,442.1 1318.2,428.4 1329.4,423.6" fill="#00ff00"/>
</svg>
<div class="t" id="ttl" style="left:26px;top:8px;"><span style="letter-spacing:-0.36px">CHINA300-,H4</span><span style="letter-spacing:0.5px">  </span><span style="letter-spacing:0.15px">3891.5 3896.4 3881.2 3882.5</span></div>
<div class="t" id="macd" style="left:9px;top:639px;"><span style="letter-spacing:-0.13px">MACD(12,26,9)</span><span style="letter-spacing:0.17px"> 32.20 18.58</span></div>
<div class="t pl" style="left:1542px;top:5px;letter-spacing:0.3px;">4257.0</div>
<div class="t pl" style="left:1542px;top:70px;letter-spacing:0.3px;">4174.0</div>
<div class="t pl" style="left:1542px;top:135px;letter-spacing:0.3px;">4092.0</div>
<div class="t pl" style="left:1542px;top:200px;letter-spacing:0.3px;">4010.0</div>
<div class="t pl" style="left:1542px;top:265px;letter-spacing:0.3px;">3927.0</div>
<div class="t pl" style="left:1542px;top:330px;letter-spacing:0.3px;">3845.0</div>
<div class="t pl" style="left:1542px;top:395px;letter-spacing:0.3px;">3763.0</div>
<div class="t pl" style="left:1542px;top:460px;letter-spacing:0.3px;">3680.0</div>
<div class="t pl" style="left:1542px;top:525px;letter-spacing:0.3px;">3598.0</div>
<div class="t pl" style="left:1542px;top:590px;letter-spacing:0.3px;">3516.0</div>
<div class="t " style="left:1539.5px;top:637px;letter-spacing:0.4px;">44.93</div>
<div class="t " style="left:1539.5px;top:689px;letter-spacing:0.4px;">0.00</div>
<div class="t " style="left:1539.5px;top:779px;letter-spacing:0.4px;">-74.8</div>
<div class="t" style="left:1537px;top:299px;width:53px;height:6px;overflow:hidden;color:#fff;"><span style="position:absolute;left:5px;top:1px;letter-spacing:0.4px;">3882.5</span></div>
<div class="t " style="left:1542px;top:306px;color:#fff;letter-spacing:0.4px;">3878.0</div>
<div class="t " style="left:4.2px;top:801px;letter-spacing:0.2px;">11 Aug 2022</div>
<div class="t " style="left:132.2px;top:801px;letter-spacing:0.2px;">23 Aug 01:30</div>
<div class="t " style="left:260.2px;top:801px;letter-spacing:0.2px;">2 Sep 01:30</div>
<div class="t " style="left:388.2px;top:801px;letter-spacing:0.2px;">15 Sep 01:30</div>
<div class="t " style="left:516.2px;top:801px;letter-spacing:0.2px;">27 Sep 01:30</div>
<div class="t " style="left:644.2px;top:801px;letter-spacing:0.2px;">14 Oct 01:30</div>
<div class="t " style="left:772.2px;top:801px;letter-spacing:0.2px;">26 Oct 01:30</div>
<div class="t " style="left:900.2px;top:801px;letter-spacing:0.2px;">7 Nov 01:30</div>
<div class="t " style="left:1028.2px;top:801px;letter-spacing:0.2px;">17 Nov 01:30</div>
<div class="t " style="left:1156.2px;top:801px;letter-spacing:0.2px;">29 Nov 01:30</div>
<svg width="1590" height="825" viewBox="0 0 1590 825" style="z-index:5">
<rect x="1572.5" y="470" width="17" height="90" rx="6" fill="#000" opacity="0.035"/>
<rect x="1574" y="471.5" width="14" height="86" rx="5" fill="#000" opacity="0.04"/>
<path d="M1575 474.5 q0 -2 2 -2 h8 q2 0 2 2 v76 q0 5.5 -6 5.5 q-6 0 -6 -5.5 z" fill="rgba(18,17,18,0.655)"/>
<g shape-rendering="crispEdges"><rect x="1576" y="507" width="9" height="1" fill="#28d65a"/><rect x="1576" y="510" width="9" height="1" fill="#28d65a"/><rect x="1576" y="513" width="9" height="1" fill="#28d65a"/><rect x="1576" y="516" width="9" height="1" fill="#28d65a"/><rect x="1576" y="519" width="9" height="1" fill="#28d65a"/><rect x="1576" y="522" width="9" height="1" fill="#28d65a"/><rect x="1576" y="525" width="9" height="1" fill="#28d65a"/><rect x="1576" y="528" width="9" height="1" fill="#28d65a"/><rect x="1576" y="531" width="9" height="1" fill="#28d65a"/><rect x="1576" y="534" width="9" height="1" fill="#28d65a"/><rect x="1576" y="537" width="9" height="1" fill="#28d65a"/><rect x="1576" y="540" width="9" height="1" fill="#28d65a"/><rect x="1576" y="543" width="9" height="1" fill="#28d65a"/><rect x="1576" y="546" width="9" height="1" fill="#28d65a"/><rect x="1576" y="549" width="9" height="1" fill="#28d65a"/><rect x="1578" y="552" width="6" height="1" fill="#28d65a"/></g>
</svg>
</body></html>
